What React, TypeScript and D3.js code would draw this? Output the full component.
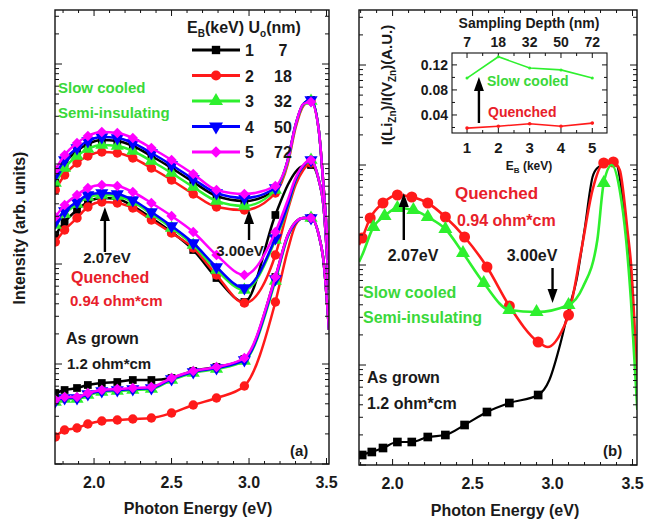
import React, { useEffect, useRef } from "react";
import * as d3 from "d3";

const energyA = [1.75, 1.81, 1.89, 1.96, 2.05, 2.15, 2.25, 2.37, 2.5, 2.64, 2.79, 2.97, 3.17, 3.25, 3.3, 3.35, 3.4, 3.45, 3.48, 3.516];
const markA = [1.75, 1.81, 1.89, 1.96, 2.05, 2.15, 2.25, 2.37, 2.5, 2.64, 2.79, 2.97, 3.17, 3.4];

// slow cooled, E_B = 1..5
const slowK = [2.86, 3.01, 3.13, 3.2, 3.24, 3.23, 3.18, 3.08, 2.96, 2.82, 2.68, 2.63, 2.74, 3.04, 3.39, 3.6, 3.64, 3.34, 2.79, 2.04];
const slowR = [2.74, 2.89, 3.01, 3.08, 3.12, 3.11, 3.06, 2.96, 2.84, 2.7, 2.57, 2.54, 2.71, 3.0, 3.36, 3.58, 3.63, 3.34, 2.8, 2.05];
const slowG = [2.81, 2.96, 3.08, 3.15, 3.19, 3.18, 3.13, 3.03, 2.91, 2.77, 2.63, 2.58, 2.74, 3.02, 3.38, 3.59, 3.63, 3.34, 2.79, 2.04];
const slowB = [2.89, 3.04, 3.16, 3.23, 3.27, 3.26, 3.21, 3.11, 2.99, 2.85, 2.71, 2.66, 2.76, 3.04, 3.39, 3.6, 3.64, 3.34, 2.79, 2.04];
const slowM = [2.94, 3.09, 3.21, 3.28, 3.32, 3.31, 3.26, 3.16, 3.04, 2.9, 2.74, 2.7, 2.78, 3.04, 3.39, 3.6, 3.62, 3.34, 2.79, 2.04];

// quenched
const quenK = [2.29, 2.42, 2.54, 2.62, 2.66, 2.65, 2.58, 2.46, 2.32, 2.14, 1.86, 1.62, 2.49, 2.79, 2.92, 2.98, 2.99, 2.84, 2.59, 1.74];
const quenR = [2.22, 2.34, 2.46, 2.57, 2.62, 2.61, 2.56, 2.44, 2.31, 2.16, 1.89, 1.61, 2.09, 2.54, 2.79, 2.94, 3.01, 2.84, 2.59, 1.74];
const quenG = [2.39, 2.5, 2.6, 2.67, 2.69, 2.68, 2.62, 2.5, 2.36, 2.19, 1.94, 1.74, 2.24, 2.57, 2.83, 2.98, 3.04, 2.84, 2.59, 1.74];
const quenB = [2.42, 2.53, 2.62, 2.69, 2.71, 2.7, 2.64, 2.52, 2.38, 2.21, 1.97, 1.76, 2.26, 2.59, 2.84, 2.98, 3.04, 2.84, 2.59, 1.74];
const quenM = [2.47, 2.59, 2.69, 2.76, 2.79, 2.78, 2.72, 2.61, 2.48, 2.32, 2.09, 1.89, 2.32, 2.64, 2.86, 2.99, 3.04, 2.84, 2.59, 1.74];

// as grown
const grownK = [0.71, 0.74, 0.76, 0.79, 0.81, 0.82, 0.84, 0.84, 0.86, 0.93, 0.97, 1.05, 1.87, 2.29, 2.42, 2.46, 2.46, 2.29, 2.04, 1.34];
const grownR = [0.27, 0.34, 0.36, 0.4, 0.43, 0.44, 0.45, 0.46, 0.51, 0.59, 0.66, 0.78, 1.62, 2.14, 2.39, 2.46, 2.46, 2.29, 2.04, 1.34];
const grownG = [0.62, 0.65, 0.65, 0.69, 0.72, 0.73, 0.74, 0.75, 0.84, 0.91, 0.95, 1.03, 1.83, 2.27, 2.41, 2.46, 2.46, 2.29, 2.04, 1.34];
const grownB = [0.63, 0.66, 0.66, 0.7, 0.73, 0.74, 0.75, 0.76, 0.85, 0.92, 0.96, 1.04, 1.85, 2.28, 2.41, 2.46, 2.46, 2.29, 2.04, 1.34];
const grownM = [0.64, 0.67, 0.67, 0.71, 0.74, 0.75, 0.76, 0.77, 0.86, 0.93, 0.97, 1.06, 1.87, 2.29, 2.42, 2.46, 2.46, 2.29, 2.04, 1.34];

// legend
const ebLabels = ["1", "2", "3", "4", "5"];
const depthLabels = ["7", "18", "32", "50", "72"];

// ---- panel (b)
const energyRed = [1.79, 1.81, 1.86, 1.94, 2.03, 2.12, 2.22, 2.33, 2.45, 2.59, 2.73, 2.91, 2.97, 3.07, 3.1, 3.18, 3.25, 3.32, 3.38, 3.42, 3.47, 3.49, 3.53];
const quenchedB = [2.2, 2.27, 2.47, 2.62, 2.7, 2.68, 2.62, 2.48, 2.28, 1.98, 1.59, 1.23, 1.18, 1.38, 1.5, 2.15, 2.75, 3.02, 3.03, 2.95, 2.32, 2.02, 0.82];
const markRed = [1.81, 1.86, 1.94, 2.03, 2.12, 2.22, 2.33, 2.45, 2.59, 2.73, 2.91, 3.1, 3.32, 3.38];

const energyGreen = [1.79, 1.81, 1.88, 1.95, 2.03, 2.13, 2.22, 2.33, 2.44, 2.57, 2.73, 2.9, 3.1, 3.19, 3.28, 3.32, 3.37, 3.42, 3.46, 3.49, 3.53];
const slowB2 = [2.03, 2.1, 2.38, 2.49, 2.57, 2.55, 2.48, 2.36, 2.12, 1.82, 1.55, 1.53, 1.6, 1.78, 2.25, 2.82, 3.0, 2.75, 2.25, 1.65, 0.55];
const markGreen = [1.88, 1.95, 2.03, 2.13, 2.22, 2.33, 2.44, 2.57, 2.73, 2.9, 3.1, 3.32];

const energyBlack = [1.79, 1.81, 1.87, 1.94, 2.03, 2.12, 2.22, 2.33, 2.45, 2.59, 2.73, 2.91, 2.98, 3.05, 3.1, 3.15, 3.2, 3.25, 3.28, 3.35, 3.4, 3.44, 3.48, 3.53];
const grownB2 = [0.07, 0.1, 0.13, 0.17, 0.23, 0.23, 0.28, 0.3, 0.4, 0.53, 0.62, 0.7, 0.85, 1.22, 1.55, 1.85, 2.35, 2.88, 2.97, 3.02, 3.0, 2.65, 2.1, 0.8];
const markBlack = [1.81, 1.87, 1.94, 2.03, 2.12, 2.22, 2.33, 2.45, 2.59, 2.73, 2.91];

// inset: I(Li_Zn)/I(V_Zn) vs beam energy
const insetEB = [1, 2, 3, 4, 5];
const ratioSlow = [0.099, 0.133, 0.115, 0.112, 0.099];
const ratioQuench = [0.019, 0.022, 0.026, 0.022, 0.027];

const FONT = "'Liberation Sans', Arial, Helvetica, sans-serif";
const C_K = "#000000", C_R = "#ff1a1a", C_G = "#2ef02e", C_B = "#0000ff", C_M = "#ff00ff";
const T_G = "#3ad83a", T_R = "#e8202a", T_K = "#1a1a1a";

function symbolPath(shape: string, size: number) {
    let type = d3.symbolCircle;
    if (shape === "square" || shape === "diamond") type = d3.symbolSquare;
    if (shape === "tri" || shape === "tridown") type = d3.symbolTriangle;
    return d3.symbol().type(type).size(size)();
}

function shapeRotate(shape: string) {
    if (shape === "tridown") return " rotate(180)";
    if (shape === "diamond") return " rotate(45)";
    return "";
}

export default function App() {
    const ref = useRef<SVGSVGElement>(null);

    useEffect(() => {
        const svg = d3.select(ref.current);
        svg.selectAll("*").remove();

        const xA = d3.scaleLinear().domain([1.748, 3.516]).range([55, 329]);
        const yA = d3.scaleLinear().domain([0, 4.54]).range([464, 10]);
        const xB = d3.scaleLinear().domain([1.79, 3.528]).range([359, 637]);
        const yB = d3.scaleLinear().domain([0, 4.55]).range([465, 10]);
        const xI = d3.scaleLinear().domain([0.52, 5.47]).range([452, 607]);
        const yI = d3.scaleLinear().domain([0.0112, 0.139]).range([133, 53]);

        const defs = svg.append("defs");
        [["clipA", xA, yA], ["clipB", xB, yB]].forEach(([id, x, y]: any) => {
            defs.append("clipPath").attr("id", id)
                .append("rect")
                .attr("x", x.range()[0]).attr("y", y.range()[1])
                .attr("width", x.range()[1] - x.range()[0])
                .attr("height", y.range()[0] - y.range()[1]);
        });

        // frame with inward ticks
        function frame(x: any, y: any) {
            const g = svg.append("g");
            const [l, r] = x.range();
            const [b, t] = y.range();
            g.append("rect").attr("x", l).attr("y", t).attr("width", r - l).attr("height", b - t)
                .attr("fill", "none").attr("stroke", "#111").attr("stroke-width", 1.4);
            const [e0, e1] = x.domain();
            for (let i = Math.ceil(e0 * 10); i <= Math.floor(e1 * 10); i++) {
                const major = i % 5 === 0;
                const len = major ? 6 : 3;
                const px = x(i / 10);
                g.append("line").attr("x1", px).attr("x2", px).attr("y1", b).attr("y2", b - len).attr("stroke", "#111");
                g.append("line").attr("x1", px).attr("x2", px).attr("y1", t).attr("y2", t + len).attr("stroke", "#111");
                if (major) {
                    g.append("text").attr("x", px).attr("y", b + 24).attr("text-anchor", "middle")
                        .attr("font-family", FONT).attr("font-weight", "bold").attr("font-size", 16)
                        .attr("fill", T_K).text((i / 10).toFixed(1));
                }
            }
            const [v0, v1] = y.domain();
            for (let d = 0; d <= Math.ceil(v1); d++) {
                for (let k = 1; k <= 9; k++) {
                    const v = d + Math.log10(k);
                    if (v < v0 || v > v1) continue;
                    const len = k === 1 ? 7 : 4;
                    const py = y(v);
                    g.append("line").attr("x1", l).attr("x2", l + len).attr("y1", py).attr("y2", py).attr("stroke", "#111");
                    g.append("line").attr("x1", r).attr("x2", r - len).attr("y1", py).attr("y2", py).attr("stroke", "#111");
                }
            }
        }

        function series(x: any, y: any, clip: string, energies: number[], values: number[], marks: number[],
                        color: string, shape: string, size: number, width = 2.5) {
            const pts = energies.map((e, i) => [e, values[i]] as [number, number]);
            const g = svg.append("g").attr("clip-path", `url(#${clip})`);
            const line = d3.line<[number, number]>()
                .x(d => x(d[0])).y(d => y(d[1]))
                .curve(d3.curveMonotoneX);
            g.append("path").datum(pts).attr("d", line).attr("fill", "none")
                .attr("stroke", color).attr("stroke-width", width);
            g.selectAll("path.mk")
                .data(pts.filter(p => marks.some(m => Math.abs(m - p[0]) < 1e-6)))
                .enter().append("path").attr("class", "mk")
                .attr("d", symbolPath(shape, size))
                .attr("transform", d => `translate(${x(d[0])},${y(d[1])})` + shapeRotate(shape))
                .attr("fill", color);
        }

        function label(x: number, y: number, str: string, color: string, size: number, anchor = "start") {
            return svg.append("text").attr("x", x).attr("y", y).attr("text-anchor", anchor)
                .attr("font-family", FONT).attr("font-weight", "bold").attr("font-size", size)
                .attr("fill", color).text(str);
        }

        function arrow(x1: number, y1: number, x2: number, y2: number) {
            const dir = y2 < y1 ? 1 : -1;
            svg.append("line").attr("x1", x1).attr("y1", y1).attr("x2", x2).attr("y2", y2 + dir * 10)
                .attr("stroke", "#000").attr("stroke-width", 2.4);
            svg.append("path")
                .attr("d", `M${x2},${y2} L${x2 - 5},${y2 + dir * 14} L${x2 + 5},${y2 + dir * 14} Z`)
                .attr("fill", "#000");
        }

        // ---------- panel (a)
        const colors = [C_K, C_R, C_G, C_B, C_M];
        const shapes = ["square", "circle", "tri", "tridown", "diamond"];
        const sizes = [60, 70, 75, 75, 55];
        const groupsA = [
            [grownK, grownR, grownG, grownB, grownM],
            [quenK, quenR, quenG, quenB, quenM],
            [slowK, slowR, slowG, slowB, slowM],
        ];
        groupsA.forEach(grp => grp.forEach((vals, i) =>
            series(xA, yA, "clipA", energyA, vals, markA, colors[i], shapes[i], sizes[i])));
        frame(xA, yA);

        // legend
        const hdr = label(187, 33, "", T_K, 16);
        hdr.append("tspan").text("E");
        hdr.append("tspan").attr("font-size", 10).attr("dy", 4).text("B");
        hdr.append("tspan").attr("dy", -4).text("(keV) U");
        hdr.append("tspan").attr("font-size", 10).attr("dy", 4).text("o");
        hdr.append("tspan").attr("dy", -4).text("(nm)");
        ebLabels.forEach((lab, i) => {
            const cy = 50 + i * 25.5;
            svg.append("line").attr("x1", 192).attr("x2", 240).attr("y1", cy).attr("y2", cy)
                .attr("stroke", colors[i]).attr("stroke-width", 2.8);
            svg.append("path").attr("d", symbolPath(shapes[i], sizes[i] + 10))
                .attr("transform", `translate(216,${cy})` + shapeRotate(shapes[i]))
                .attr("fill", colors[i]);
            label(245, cy + 6, lab, T_K, 16);
            label(283, cy + 6, depthLabels[i], T_K, 16, "middle");
        });

        label(58, 93, "Slow cooled", T_G, 15);
        label(58, 118, "Semi-insulating", T_G, 15);
        arrow(xA(2.07), yA(2.12), xA(2.07), yA(2.57));
        label(107, 263, "2.07eV", T_K, 15, "middle");
        arrow(xA(3.0), yA(2.24), xA(3.0), yA(2.54));
        label(240, 256, "3.00eV", T_K, 15, "middle");
        label(71, 283, "Quenched", T_R, 16);
        label(70, 306, "0.94 ohm*cm", T_R, 15);
        label(66, 344, "As grown", T_K, 16);
        label(67, 369, "1.2 ohm*cm", T_K, 15);
        label(290, 456, "(a)", T_K, 15);

        svg.append("text").attr("transform", "translate(25,228) rotate(-90)")
            .attr("text-anchor", "middle").attr("font-family", FONT).attr("font-weight", "bold")
            .attr("font-size", 16).attr("fill", T_K).text("Intensity (arb. units)");
        label(198, 514, "Photon Energy (eV)", T_K, 16, "middle");

        // ---------- panel (b)
        series(xB, yB, "clipB", energyBlack, grownB2, markBlack, C_K, "square", 75, 2.2);
        series(xB, yB, "clipB", energyRed, quenchedB, markRed, C_R, "circle", 95, 2.6);
        series(xB, yB, "clipB", energyGreen, slowB2, markGreen, C_G, "tri", 85, 2.6);
        frame(xB, yB);

        label(455, 199, "Quenched", T_R, 17);
        label(457, 226, "0.94 ohm*cm", T_R, 16);
        arrow(xB(2.07), yB(2.25), xB(2.07), yB(2.72));
        label(413, 261, "2.07eV", T_K, 16, "middle");
        arrow(xB(3.0), yB(1.97), xB(3.0), yB(1.62));
        label(532, 261, "3.00eV", T_K, 16, "middle");
        label(363, 298, "Slow cooled", T_G, 16);
        label(363, 323, "Semi-insulating", T_G, 16);
        label(367, 383, "As grown", T_K, 16);
        label(367, 409, "1.2 ohm*cm", T_K, 16);
        label(603, 456, "(b)", T_K, 15);
        label(505, 516, "Photon Energy (eV)", T_K, 16, "middle");

        // ---------- inset
        const ins = svg.append("g");
        const [il, ir] = xI.range();
        const [ib, it] = yI.range();
        ins.append("rect").attr("x", il).attr("y", it).attr("width", ir - il).attr("height", ib - it)
            .attr("fill", "white").attr("stroke", "#111").attr("stroke-width", 1.1);
        for (let v = 0.02; v <= 0.13; v += 0.02) {
            const major = Math.round(v * 100) % 4 === 0;
            const py = yI(v);
            ins.append("line").attr("x1", il).attr("x2", il + (major ? 5 : 3)).attr("y1", py).attr("y2", py).attr("stroke", "#111");
            ins.append("line").attr("x1", ir).attr("x2", ir - (major ? 5 : 3)).attr("y1", py).attr("y2", py).attr("stroke", "#111");
            if (major) {
                ins.append("text").attr("x", il - 4).attr("y", py + 5).attr("text-anchor", "end")
                    .attr("font-family", FONT).attr("font-weight", "bold").attr("font-size", 14)
                    .attr("fill", T_K).text(v.toFixed(2));
            }
        }
        for (let v = 1; v <= 5; v += 0.5) {
            const major = v % 1 === 0;
            const px = xI(v);
            ins.append("line").attr("x1", px).attr("x2", px).attr("y1", ib).attr("y2", ib - (major ? 5 : 3)).attr("stroke", "#111");
            ins.append("line").attr("x1", px).attr("x2", px).attr("y1", it).attr("y2", it + (major ? 5 : 3)).attr("stroke", "#111");
        }
        insetEB.forEach((eb, i) => {
            ins.append("text").attr("x", xI(eb)).attr("y", ib + 20).attr("text-anchor", "middle")
                .attr("font-family", FONT).attr("font-weight", "bold").attr("font-size", 15)
                .attr("fill", T_K).text(String(eb));
            ins.append("text").attr("x", xI(eb)).attr("y", it - 6).attr("text-anchor", "middle")
                .attr("font-family", FONT).attr("font-weight", "bold").attr("font-size", 14)
                .attr("fill", T_K).text(depthLabels[i]);
        });
        const ebl = ins.append("text").attr("x", 529).attr("y", 170).attr("text-anchor", "middle")
            .attr("font-family", FONT).attr("font-weight", "bold").attr("font-size", 12).attr("fill", T_K);
        ebl.append("tspan").text("E");
        ebl.append("tspan").attr("font-size", 8).attr("dy", 3).text("B");
        ebl.append("tspan").attr("dy", -3).text(" (keV)");
        ins.append("text").attr("x", 529).attr("y", 28).attr("text-anchor", "middle")
            .attr("font-family", FONT).attr("font-weight", "bold").attr("font-size", 14)
            .attr("fill", T_K).text("Sampling Depth (nm)");

        const il2 = d3.line<number>().x((d, i) => xI(insetEB[i])).y(d => yI(d));
        ins.append("path").datum(ratioSlow).attr("d", il2).attr("fill", "none").attr("stroke", C_G).attr("stroke-width", 1.6);
        ins.append("path").datum(ratioQuench).attr("d", il2).attr("fill", "none").attr("stroke", C_R).attr("stroke-width", 1.6);
        ins.selectAll("circle.q").data(ratioQuench).enter().append("circle")
            .attr("cx", (d, i) => xI(insetEB[i])).attr("cy", d => yI(d)).attr("r", 1.8).attr("fill", C_R);
        ins.selectAll("circle.s").data(ratioSlow).enter().append("circle")
            .attr("cx", (d, i) => xI(insetEB[i])).attr("cy", d => yI(d)).attr("r", 1.5).attr("fill", C_G);
        arrow(xI(1.38), yI(0.0272), xI(1.38), yI(0.1007));
        label(487, 86, "Slow cooled", T_G, 14);
        label(488, 117, "Quenched", T_R, 14);

        const yl = svg.append("text").attr("transform", "translate(392,85) rotate(-90)")
            .attr("text-anchor", "middle").attr("font-family", FONT).attr("font-weight", "bold")
            .attr("font-size", 15).attr("fill", T_K);
        yl.append("tspan").text("I(Li");
        yl.append("tspan").attr("font-size", 10).attr("dy", 4).text("Zn");
        yl.append("tspan").attr("dy", -4).text(")/I(V");
        yl.append("tspan").attr("font-size", 10).attr("dy", 4).text("Zn");
        yl.append("tspan").attr("dy", -4).text(")(A.U.)");
    }, []);

    return (
        <svg ref={ref} width={645} height={524}
             style={{ position: "absolute", left: 0, top: 0, background: "white" }} />
    );
}
